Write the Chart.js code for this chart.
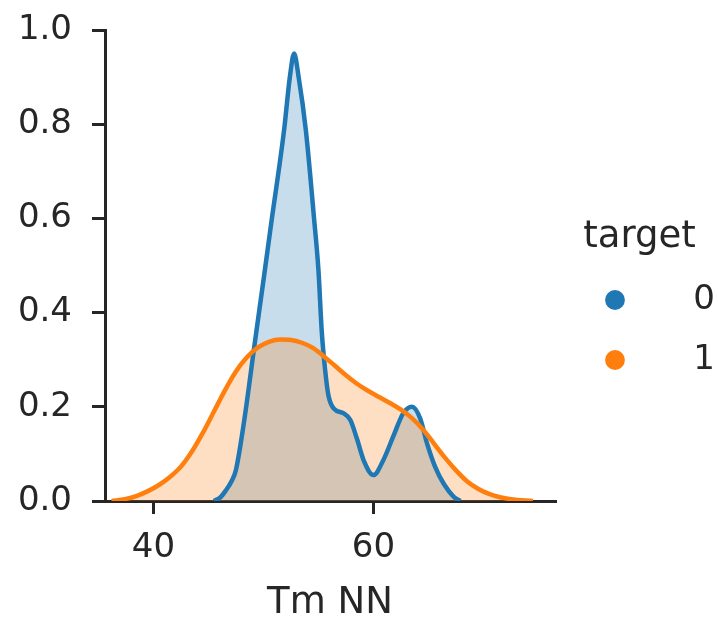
<!DOCTYPE html>
<html><head><meta charset="utf-8">
<script src="https://cdn.jsdelivr.net/npm/chart.js@4/dist/chart.umd.min.js"></script>
<style>html,body{margin:0;padding:0;background:#fff;}canvas{display:block;}</style>
</head><body>
<canvas id="c" width="718" height="622"></canvas>
<script>
// ---- data ----
const seriesNames = ['0', '1'];
const legendTitle = 'target';
const xLabel = 'Tm NN';
const xTicks = [40, 60];
const yTicks = [0, 0.2, 0.4, 0.6, 0.8, 1.0];

// target 0 density
const x0 = [45.5, 46.1, 46.6, 47.1, 47.5, 48.26, 49.17, 50.07, 50.68, 51.88, 52.4, 52.79, 53.2, 53.85, 54.6, 55.0, 55.3, 55.6, 55.9, 56.4, 57.3, 57.9, 58.5, 59.1, 60.0, 60.9, 61.8, 62.7, 63.5, 64.25, 64.86, 65.6, 66.4, 67.3, 67.9];
const y0 = [0, 0.008, 0.023, 0.042, 0.066, 0.172, 0.328, 0.48, 0.585, 0.788, 0.9, 0.95, 0.9, 0.788, 0.6, 0.49, 0.36, 0.28, 0.225, 0.196, 0.186, 0.172, 0.132, 0.087, 0.055, 0.087, 0.137, 0.186, 0.2, 0.175, 0.123, 0.073, 0.036, 0.009, 0];

// target 1 density
const x1 = [36.2, 37.4, 38.5, 39.5, 40.5, 41.5, 42.5, 43.5, 44.5, 45.5, 46.5, 47.5, 48.5, 49.5, 50.5, 51.5, 52.5, 53.5, 54.5, 55.5, 56.5, 57.5, 58.5, 59.5, 60.5, 61.5, 62.5, 63.5, 64.5, 65.5, 66.5, 67.5, 68.5, 69.5, 70.5, 71.5, 72.5, 74.5];
const y1 = [0, 0.004, 0.011, 0.021, 0.034, 0.051, 0.073, 0.105, 0.145, 0.19, 0.235, 0.275, 0.305, 0.326, 0.338, 0.343, 0.342, 0.336, 0.325, 0.307, 0.287, 0.267, 0.249, 0.234, 0.221, 0.208, 0.194, 0.176, 0.152, 0.122, 0.092, 0.065, 0.042, 0.026, 0.015, 0.008, 0.004, 0];

const xMin = 35.6, xMax = 76.5, yMin = 0, yMax = 1.0;

// ---- styling ----
const INK = '#262626';
const BLUE = '#1f77b4', ORANGE = '#ff7f0e';
const FONT = "'DejaVu Sans', sans-serif";

function pts(xs, ys) { return xs.map((x, i) => ({x: x, y: ys[i]})); }

const legendFix = {
  id: 'legendFix',
  beforeLayout(chart) {
    const lg = chart.legend;
    if (lg && !lg.__patched) {
      const orig = lg.fit;
      lg.fit = function () { orig.call(this); this.width = 163; };
      lg.__patched = true;
    }
  },
  afterLayout(chart) {
    const lg = chart.legend;
    if (!lg) return;
    lg.left = 572; lg.right = 715; lg.width = 135;
  }
};

new Chart(document.getElementById('c'), {
  type: 'line',
  data: {
    datasets: [
      {
        label: seriesNames[0],
        data: pts(x0, y0),
        borderColor: BLUE,
        backgroundColor: 'rgba(31,119,180,0.25)',
        pointBackgroundColor: BLUE,
        pointBorderColor: BLUE,
        pointBorderWidth: 0,
        borderWidth: 4.5,
        pointRadius: 0,
        fill: 'origin',
        cubicInterpolationMode: 'monotone',
        order: 1
      },
      {
        label: seriesNames[1],
        data: pts(x1, y1),
        borderColor: ORANGE,
        backgroundColor: 'rgba(255,127,14,0.25)',
        pointBackgroundColor: ORANGE,
        pointBorderColor: ORANGE,
        pointBorderWidth: 0,
        borderWidth: 4.5,
        pointRadius: 0,
        fill: 'origin',
        cubicInterpolationMode: 'monotone',
        order: 0
      }
    ]
  },
  options: {
    responsive: false,
    animation: false,
    devicePixelRatio: 1,
    layout: { padding: { left: 0, top: 30, right: 0, bottom: 0 } },
    plugins: {
      tooltip: { enabled: false },
      filler: { drawTime: 'beforeDatasetsDraw' },
      legend: {
        display: true,
        position: 'right',
        align: 'start',
        fullSize: false,
        labels: {
          usePointStyle: true,
          pointStyle: 'circle',
          boxWidth: 40,
          boxHeight: 14,
          padding: 26,
          textAlign: 'right',
          color: INK,
          font: { family: FONT, size: 34 },
          sort: (a, b) => a.datasetIndex - b.datasetIndex
        },
        title: {
          display: true,
          text: legendTitle,
          color: INK,
          position: 'center',
          font: { family: FONT, size: 37, lineHeight: 1 },
          padding: { top: 188.5, bottom: 1.5 }
        }
      }
    },
    scales: {
      x: {
        type: 'linear',
        min: xMin, max: xMax,
        afterBuildTicks: (s) => { s.ticks = xTicks.map(v => ({value: v})); },
        afterFit: (s) => { s.height = 121; s.paddingLeft = 0; s.paddingRight = 0; },
        ticks: {
          color: INK, padding: 14,
          font: { family: FONT, size: 34 },
          callback: (v) => String(v)
        },
        grid: { display: true, drawOnChartArea: false, drawTicks: true, tickLength: 13, tickWidth: 3, tickColor: INK, color: INK, lineWidth: 3 },
        border: { display: true, color: INK, width: 3 },
        title: { display: true, text: xLabel, color: INK, font: { family: FONT, size: 37, lineHeight: 1 }, padding: { top: 0, bottom: 0 } }
      },
      y: {
        type: 'linear',
        min: yMin, max: yMax,
        afterBuildTicks: (s) => { s.ticks = yTicks.map(v => ({value: v})); },
        afterFit: (s) => { s.width = 105; s.paddingTop = 0; s.paddingBottom = 0; },
        ticks: {
          color: INK, padding: 20,
          font: { family: FONT, size: 34 },
          callback: (v) => Number(v).toFixed(1)
        },
        grid: { display: true, drawOnChartArea: false, drawTicks: true, tickLength: 13, tickWidth: 3, tickColor: INK, color: INK, lineWidth: 3 },
        border: { display: true, color: INK, width: 3 }
      }
    }
  },
  plugins: [legendFix]
});
</script>
</body></html>
